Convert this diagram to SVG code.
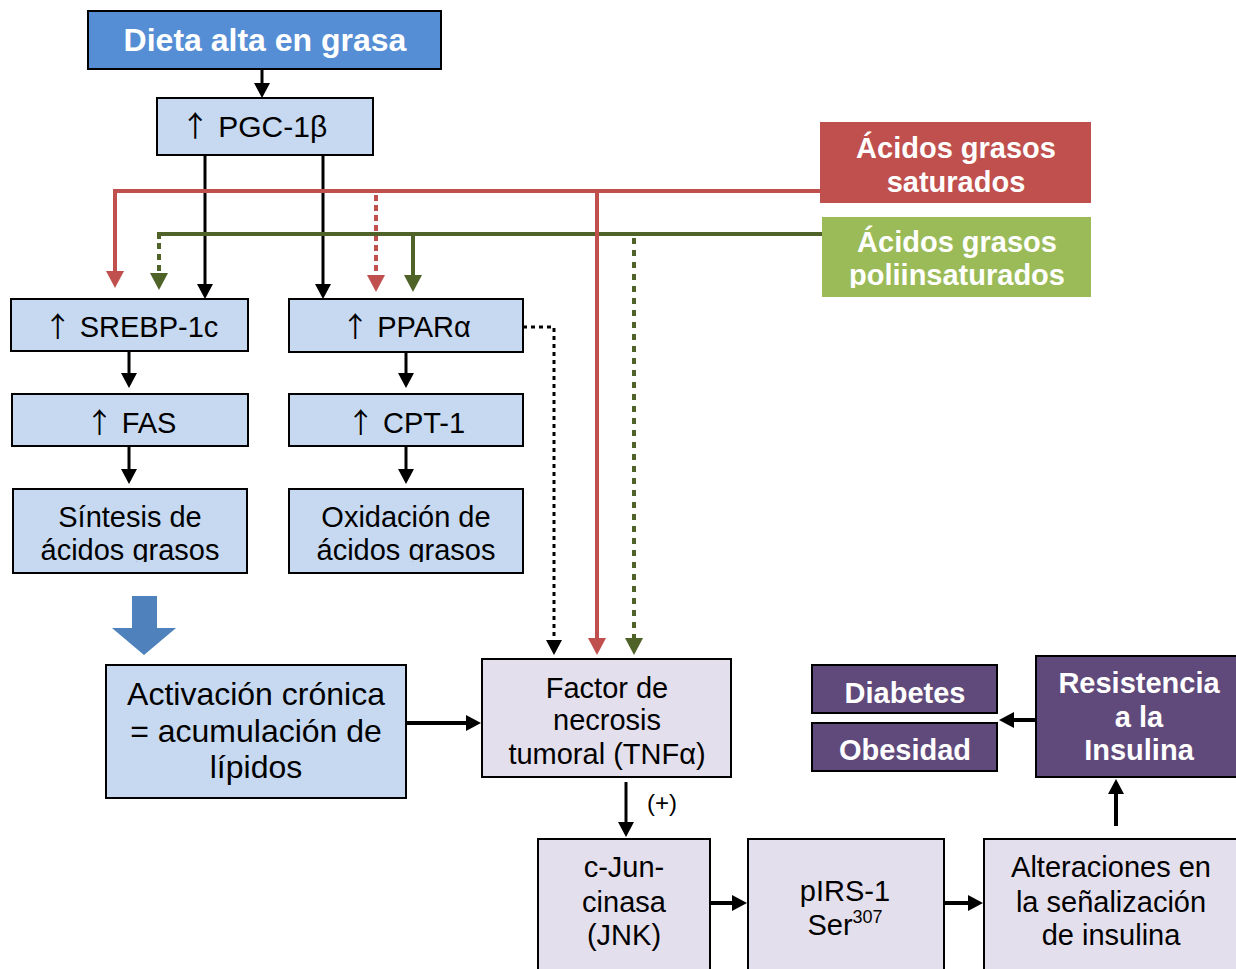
<svg xmlns="http://www.w3.org/2000/svg" width="1236" height="969" viewBox="0 0 1236 969">
<style>
text{font-family:"Liberation Sans",Arial,sans-serif;text-anchor:middle;fill:#000}
.t{font-size:29px}
.b{font-weight:bold;fill:#fff}
.up{font-family:"Noto Sans CJK SC","DejaVu Sans",sans-serif;font-size:28px}
.lb{fill:#C6D9F1;stroke:#000;stroke-width:2}
.lp{fill:#E4DFEC;stroke:#000;stroke-width:2}
.dp{fill:#604A7B;stroke:#000;stroke-width:2}
.k{fill:none;stroke:#000;stroke-width:3}
.r{fill:none;stroke:#C0504D;stroke-width:4}
.g{fill:none;stroke:#4F6228;stroke-width:4}
</style>
<defs>
<marker id="ab" markerUnits="userSpaceOnUse" markerWidth="16" markerHeight="16" viewBox="0 0 16 16" refX="1" refY="8" orient="auto"><path d="M0,0 L15,8 L0,16 z" fill="#000"/></marker>
<marker id="ar" markerUnits="userSpaceOnUse" markerWidth="17" markerHeight="18" viewBox="0 0 17 18" refX="1" refY="9" orient="auto"><path d="M0,0 L17,9 L0,18 z" fill="#C0504D"/></marker>
<marker id="ag" markerUnits="userSpaceOnUse" markerWidth="17" markerHeight="18" viewBox="0 0 17 18" refX="1" refY="9" orient="auto"><path d="M0,0 L17,9 L0,18 z" fill="#4F6228"/></marker>
<clipPath id="c1"><rect x="0" y="0" width="600" height="562"/></clipPath>
<clipPath id="c2"><rect x="800" y="200" width="300" height="88"/></clipPath>
</defs>

<g id="connectors">
<path class="k" d="M262,69 V84" marker-end="url(#ab)"/>
<path class="k" d="M205,155 V285" marker-end="url(#ab)"/>
<path class="k" d="M323,155 V285" marker-end="url(#ab)"/>
<path class="r" d="M820,191 H115 V272" marker-end="url(#ar)"/>
<path class="r" d="M376,195 V276" stroke-dasharray="6 4" marker-end="url(#ar)"/>
<path class="g" d="M822,234 H159 V239"/>
<path class="g" d="M159,243 V274" stroke-dasharray="6 5" marker-end="url(#ag)"/>
<path class="g" d="M413,234 V276" marker-end="url(#ag)"/>
<path class="r" d="M597,191 V639" marker-end="url(#ar)"/>
<path class="g" d="M634,238 V639" stroke-dasharray="6 6" marker-end="url(#ag)"/>
<path class="k" d="M523,327 H554 V641" stroke-dasharray="4 4" marker-end="url(#ab)"/>
<path class="k" d="M129,351 V374" marker-end="url(#ab)"/>
<path class="k" d="M129,446 V470" marker-end="url(#ab)"/>
<path class="k" d="M406,352 V374" marker-end="url(#ab)"/>
<path class="k" d="M406,446 V470" marker-end="url(#ab)"/>
<polygon points="132,596 157,596 157,628 176,628 144,655 112,628 132,628" fill="#4F81BD"/>
<path class="k" style="stroke-width:4" d="M406,723 H467" marker-end="url(#ab)"/>
<path class="k" d="M626,782 V823" marker-end="url(#ab)"/>
<text x="662" y="811" style="font-size:24px">(+)</text>
<path class="k" style="stroke-width:4" d="M710,903 H733" marker-end="url(#ab)"/>
<path class="k" style="stroke-width:4" d="M944,903 H969" marker-end="url(#ab)"/>
<path class="k" style="stroke-width:4" d="M1116,826 V793" marker-end="url(#ab)"/>
<path class="k" style="stroke-width:4" d="M1036,720 H1013" marker-end="url(#ab)"/>
</g>

<g id="dieta">
<rect x="88" y="11" width="353" height="58" fill="#558ED5" stroke="#000" stroke-width="2"/>
<text class="b" x="265" y="51" style="font-size:32px">Dieta alta en grasa</text>
</g>
<g id="pgc">
<rect class="lb" x="157" y="98" width="216" height="57"/>
<text class="t" x="254" y="137" style="font-size:30px"><tspan class="up" style="font-size:29px">↑</tspan> PGC-1β</text>
</g>
<g id="saturados">
<rect x="820" y="122" width="271" height="81" fill="#C0504D"/>
<text class="t b" x="956" y="158">Ácidos grasos</text>
<text class="t b" x="956" y="192">saturados</text>
</g>
<g id="poliinsaturados">
<rect x="822" y="217" width="269" height="80" fill="#9BBB59"/>
<text class="t b" x="957" y="252">Ácidos grasos</text>
<text class="t b" x="957" y="285" clip-path="url(#c2)">poliinsaturados</text>
</g>
<g id="srebp">
<rect class="lb" x="11" y="299" width="237" height="52"/>
<text class="t" x="131" y="337"><tspan class="up">↑</tspan> SREBP-1c</text>
</g>
<g id="ppar">
<rect class="lb" x="289" y="299" width="234" height="53"/>
<text class="t" x="406" y="337"><tspan class="up">↑</tspan> PPARα</text>
</g>
<g id="fas">
<rect class="lb" x="12" y="394" width="236" height="52"/>
<text class="t" x="131" y="433"><tspan class="up">↑</tspan> FAS</text>
</g>
<g id="cpt">
<rect class="lb" x="289" y="394" width="234" height="52"/>
<text class="t" x="406" y="433"><tspan class="up">↑</tspan> CPT-1</text>
</g>
<g id="sintesis">
<rect class="lb" x="13" y="489" width="234" height="84"/>
<text class="t" x="130" y="527">Síntesis de</text>
<text class="t" x="130" y="560" clip-path="url(#c1)">ácidos grasos</text>
</g>
<g id="oxidacion">
<rect class="lb" x="289" y="489" width="234" height="84"/>
<text class="t" x="406" y="527">Oxidación de</text>
<text class="t" x="406" y="560" clip-path="url(#c1)">ácidos grasos</text>
</g>
<g id="activacion">
<rect class="lb" x="106" y="665" width="300" height="133"/>
<text class="t" x="256" y="705" style="font-size:32px">Activación crónica</text>
<text class="t" x="256" y="742" style="font-size:32px">= acumulación de</text>
<text class="t" x="256" y="778" style="font-size:32px">lípidos</text>
</g>
<g id="tnf">
<rect class="lp" x="482" y="659" width="249" height="118"/>
<text class="t" x="607" y="698">Factor de</text>
<text class="t" x="607" y="730">necrosis</text>
<text class="t" x="607" y="764">tumoral (TNFα)</text>
</g>
<g id="diabetes">
<rect class="dp" x="812" y="665" width="185" height="48"/>
<text class="t b" x="905" y="703">Diabetes</text>
</g>
<g id="obesidad">
<rect class="dp" x="812" y="723" width="185" height="48"/>
<text class="t b" x="905" y="760">Obesidad</text>
</g>
<g id="resistencia">
<rect class="dp" x="1036" y="656" width="210" height="121"/>
<text class="t b" x="1139" y="693">Resistencia</text>
<text class="t b" x="1139" y="727">a la</text>
<text class="t b" x="1139" y="760">Insulina</text>
</g>
<g id="jnk">
<rect class="lp" x="538" y="839" width="172" height="140"/>
<text class="t" x="624" y="877">c-Jun-</text>
<text class="t" x="624" y="912">cinasa</text>
<text class="t" x="624" y="945">(JNK)</text>
</g>
<g id="pirs">
<rect class="lp" x="748" y="839" width="196" height="140"/>
<text class="t" x="845" y="901">pIRS-1</text>
<text class="t" x="845" y="935">Ser<tspan dy="-12" style="font-size:18px">307</tspan></text>
</g>
<g id="alteraciones">
<rect class="lp" x="984" y="839" width="262" height="140"/>
<text class="t" x="1111" y="877">Alteraciones en</text>
<text class="t" x="1111" y="912">la señalización</text>
<text class="t" x="1111" y="945">de insulina</text>
</g>
</svg>
